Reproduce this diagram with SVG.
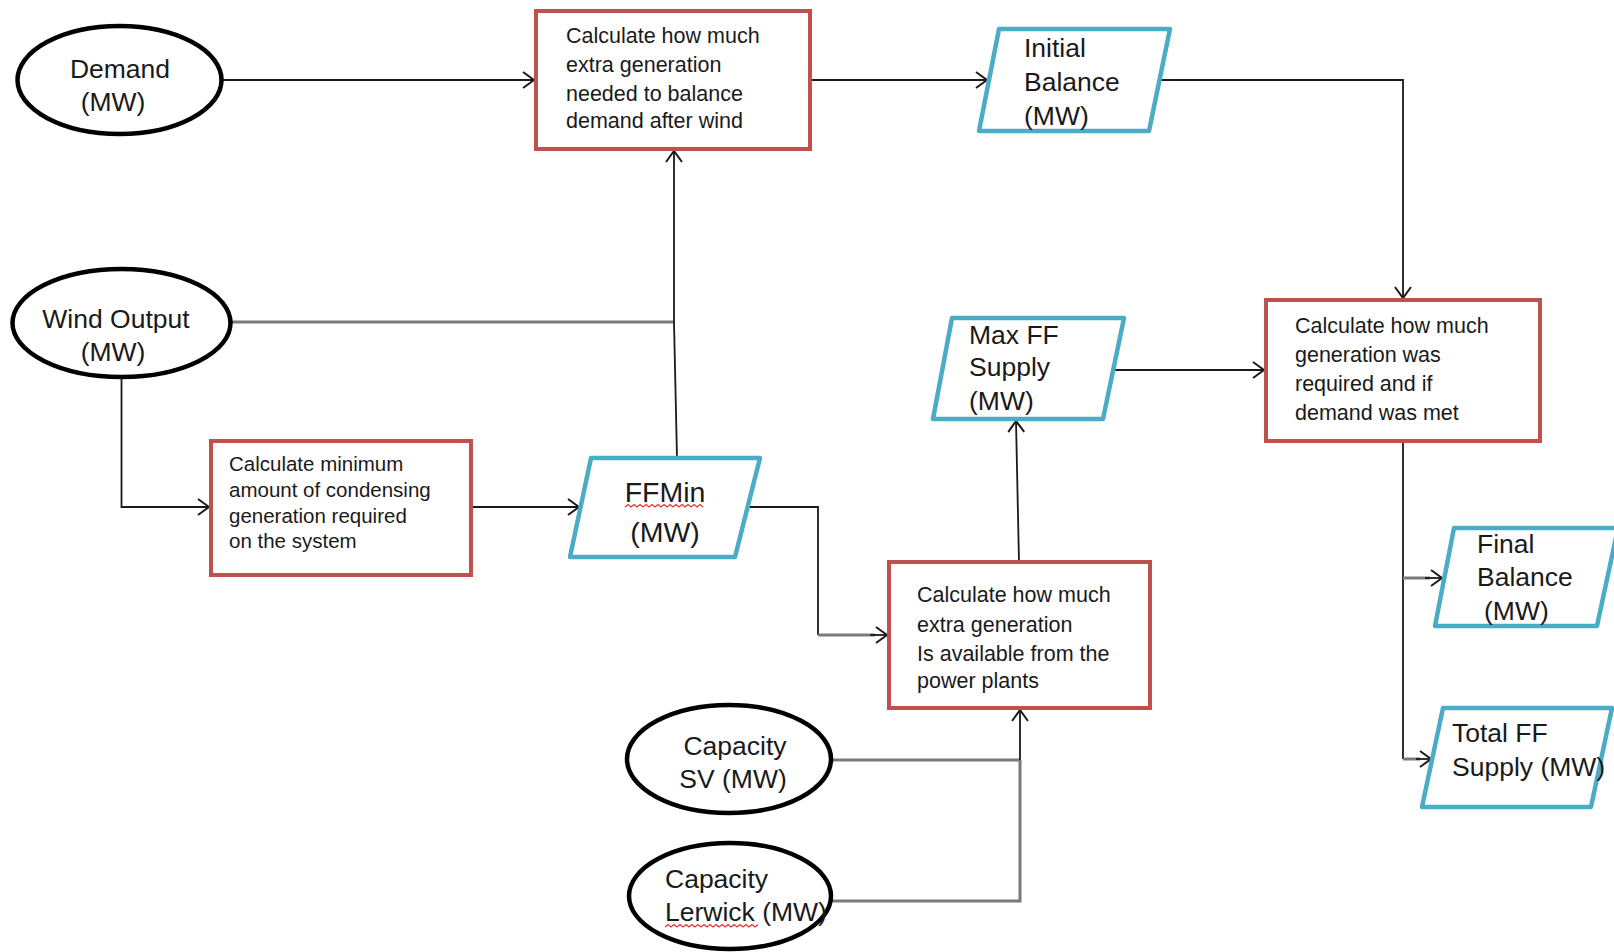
<svg xmlns="http://www.w3.org/2000/svg" width="1614" height="952" viewBox="0 0 1614 952">
  <style>
    .proc { fill: #ffffff; stroke: #C0504D; stroke-width: 4; }
    .data { fill: #ffffff; stroke: #4BACC6; stroke-width: 4.5; stroke-linejoin: round; }
    .src { fill: #ffffff; stroke: #000000; stroke-width: 4.5; }
    .t { font-family: "Liberation Sans", Arial, sans-serif; fill: #1a1a1a; }
    .big { font-size: 26.5px; }
    .box { font-size: 21.5px; }
    .small { font-size: 20.5px; }
    .line { fill: none; stroke: #1a1a1a; stroke-width: 1.8; }
    .grey { fill: none; stroke: #7a7a7a; stroke-width: 3; }
    .squiggle { fill: none; stroke: #e03030; stroke-width: 1.2; }
  </style>
  <defs>
    <marker id="arrow" markerUnits="userSpaceOnUse" markerWidth="14" markerHeight="18" refX="12" refY="9" orient="auto">
      <path d="M1,1 L12,9 L1,17" fill="none" stroke="#1a1a1a" stroke-width="2"/>
    </marker>
  </defs>

  <rect width="1614" height="952" fill="#ffffff"/>

  <!-- connectors -->
  <g id="connectors">
    <path class="line" d="M222,80 H534" marker-end="url(#arrow)"/>
    <path class="line" d="M810,80 H987" marker-end="url(#arrow)"/>
    <path class="line" d="M1159,80 H1403 V298" marker-end="url(#arrow)"/>
    <path class="grey" d="M231,322 H674"/>
    <path class="line" d="M674,322 V151" marker-end="url(#arrow)"/>
    <path class="line" d="M677,458 L674,322"/>
    <path class="line" d="M121.5,377 V507 H209" marker-end="url(#arrow)"/>
    <path class="line" d="M471,507 H579" marker-end="url(#arrow)"/>
    <path class="line" d="M747,507 H818 V635"/>
    <path class="grey" d="M818,635 H875"/>
    <path class="line" d="M870,635 H887" marker-end="url(#arrow)"/>
    <path class="line" d="M1019,562 L1016,421" marker-end="url(#arrow)"/>
    <path class="line" d="M1114,370 H1264" marker-end="url(#arrow)"/>
    <path class="grey" d="M831,760 H1020"/>
    <path class="line" d="M1020,760 V710" marker-end="url(#arrow)"/>
    <path class="grey" d="M832,901 H1020 V760"/>
    <path class="line" d="M1403,441 V759"/>
    <path class="grey" d="M1403,578 H1430"/>
    <path class="line" d="M1425,578 H1442" marker-end="url(#arrow)"/>
    <path class="grey" d="M1403,759 H1420"/>
    <path class="line" d="M1416,759 H1431" marker-end="url(#arrow)"/>
  </g>

  <!-- source ellipses -->
  <g id="demand">
    <ellipse class="src" cx="119.5" cy="80" rx="102" ry="54"/>
    <text class="t big" x="120" y="78" text-anchor="middle">Demand</text>
    <text class="t big" x="113" y="111" text-anchor="middle">(MW)</text>
  </g>

  <g id="wind-output">
    <ellipse class="src" cx="121.5" cy="323" rx="109" ry="54"/>
    <text class="t big" x="116" y="328" text-anchor="middle">Wind Output</text>
    <text class="t big" x="113" y="361" text-anchor="middle">(MW)</text>
  </g>

  <g id="capacity-sv">
    <ellipse class="src" cx="729" cy="759" rx="102" ry="54"/>
    <text class="t big" x="735" y="755" text-anchor="middle">Capacity</text>
    <text class="t big" x="733" y="788" text-anchor="middle">SV (MW)</text>
  </g>

  <g id="capacity-lerwick">
    <ellipse class="src" cx="730" cy="896" rx="101" ry="53"/>
    <text class="t big" x="665" y="888">Capacity</text>
    <text class="t big" x="665" y="921">Lerwick (MW)</text>
    <path class="squiggle" d="M665,927 l3,-2.5 l3,2.5 l3,-2.5 l3,2.5 l3,-2.5 l3,2.5 l3,-2.5 l3,2.5 l3,-2.5 l3,2.5 l3,-2.5 l3,2.5 l3,-2.5 l3,2.5 l3,-2.5 l3,2.5 l3,-2.5 l3,2.5 l3,-2.5 l3,2.5 l3,-2.5 l3,2.5 l3,-2.5 l3,2.5 l3,-2.5 l3,2.5 l3,-2.5 l3,2.5 l3,-2.5 l3,2.5 l3,-2.5"/>
  </g>

  <!-- process boxes -->
  <g id="calc-extra-needed">
    <rect class="proc" x="536" y="11" width="274" height="138"/>
    <text class="t box" x="566" y="43">Calculate how much</text>
    <text class="t box" x="566" y="72">extra generation</text>
    <text class="t box" x="566" y="101">needed to balance</text>
    <text class="t box" x="566" y="128">demand after wind</text>
  </g>

  <g id="calc-minimum">
    <rect class="proc" x="211" y="441" width="260" height="134"/>
    <text class="t small" x="229" y="471">Calculate minimum</text>
    <text class="t small" x="229" y="497">amount of condensing</text>
    <text class="t small" x="229" y="523">generation required</text>
    <text class="t small" x="229" y="548">on the system</text>
  </g>

  <g id="calc-available">
    <rect class="proc" x="889" y="562" width="261" height="146"/>
    <text class="t box" x="917" y="602">Calculate how much</text>
    <text class="t box" x="917" y="632">extra generation</text>
    <text class="t box" x="917" y="661">Is available from the</text>
    <text class="t box" x="917" y="688">power plants</text>
  </g>

  <g id="calc-required">
    <rect class="proc" x="1266" y="300" width="274" height="141"/>
    <text class="t box" x="1295" y="333">Calculate how much</text>
    <text class="t box" x="1295" y="362">generation was</text>
    <text class="t box" x="1295" y="391">required and if</text>
    <text class="t box" x="1295" y="420">demand was met</text>
  </g>

  <!-- data parallelograms -->
  <g id="initial-balance">
    <polygon class="data" points="999,29 1170,29 1149,131 979,131"/>
    <text class="t big" x="1024" y="57">Initial</text>
    <text class="t big" x="1024" y="91">Balance</text>
    <text class="t big" x="1024" y="125">(MW)</text>
  </g>

  <g id="max-ff-supply">
    <polygon class="data" points="952,318 1124,318 1103,419 933,419"/>
    <text class="t big" x="969" y="344">Max FF</text>
    <text class="t big" x="969" y="376">Supply</text>
    <text class="t big" x="969" y="410">(MW)</text>
  </g>

  <g id="ffmin">
    <polygon class="data" points="591,458 760,458 735,557 570,557"/>
    <text class="t" font-size="28.5" x="665" y="502" text-anchor="middle">FFMin</text>
    <text class="t" font-size="28.5" x="665" y="542" text-anchor="middle">(MW)</text>
    <path class="squiggle" d="M625,507 l3,-2.5 l3,2.5 l3,-2.5 l3,2.5 l3,-2.5 l3,2.5 l3,-2.5 l3,2.5 l3,-2.5 l3,2.5 l3,-2.5 l3,2.5 l3,-2.5 l3,2.5 l3,-2.5 l3,2.5 l3,-2.5 l3,2.5 l3,-2.5 l3,2.5 l3,-2.5 l3,2.5 l3,-2.5 l3,2.5 l3,-2.5 l3,2.5"/>
  </g>

  <g id="final-balance">
    <polygon class="data" points="1454,528 1618,528 1597,626 1435,626"/>
    <text class="t big" x="1477" y="553">Final</text>
    <text class="t big" x="1477" y="586">Balance</text>
    <text class="t big" x="1484" y="620">(MW)</text>
  </g>

  <g id="total-ff-supply">
    <polygon class="data" points="1443,708 1612,708 1591,807 1422,807"/>
    <text class="t big" x="1452" y="742">Total FF</text>
    <text class="t big" x="1452" y="776">Supply (MW)</text>
  </g>
</svg>
